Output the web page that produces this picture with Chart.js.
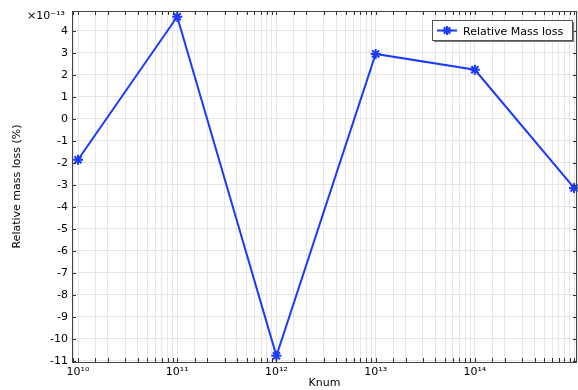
<!DOCTYPE html>
<html>
<head>
<meta charset="utf-8">
<script src="https://cdn.jsdelivr.net/npm/chart.js@4"></script>
<style>
  body { margin: 0; background: #fff; }
  #wrap { width: 578px; height: 390px; }
</style>
</head>
<body>
<div id="wrap"><canvas id="chart" width="578" height="390"></canvas></div>
<script>
// Knum values (x axis, log)
const knum = [1e10, 1e11, 1e12, 1e13, 1e14, 1e15];
// relative mass loss, in units of 1e-13 %
const relLoss = [-1.86, 4.64, -10.77, 2.95, 2.23, -3.14];
// y tick values (same units)
const yTicks = [-11, -10, -9, -8, -7, -6, -5, -4, -3, -2, -1, 0, 1, 2, 3, 4];
const yExp = -13;
const seriesName = "Relative Mass loss";

const blue = "rgb(28,58,250)";
const FONT = "DejaVu Sans";
const FS = 11;
const sup = { "0": "⁰", "1": "¹", "2": "²", "3": "³", "4": "⁴", "5": "⁵", "6": "⁶", "7": "⁷", "8": "⁸", "9": "⁹", "-": "⁻" };

function superscript(s) {
    return String(s).split("").map(c => sup[c] || c).join("");
}

// inward ticks on all four sides, legend box, exponent label
const extras = {
    id: "extras",
    afterDraw(c) {
        const ctx = c.ctx;
        const a = c.chartArea;
        const x = c.scales.x, y = c.scales.y;
        ctx.save();
        ctx.strokeStyle = "#333";
        ctx.lineWidth = 1;
        ctx.beginPath();
        x.ticks.forEach(t => {
            const px = Math.round(x.getPixelForValue(t.value)) + 0.5;
            if (px < a.left || px > a.right) return;
            ctx.moveTo(px, a.bottom); ctx.lineTo(px, a.bottom - 4);
            ctx.moveTo(px, a.top); ctx.lineTo(px, a.top + 4);
        });
        y.ticks.forEach(t => {
            const py = Math.round(y.getPixelForValue(t.value)) + 0.5;
            ctx.moveTo(a.left, py); ctx.lineTo(a.left + 4, py);
            ctx.moveTo(a.right, py); ctx.lineTo(a.right - 4, py);
        });
        ctx.stroke();

        // plot frame
        ctx.strokeStyle = "#444";
        ctx.strokeRect(a.left + 0.5, a.top + 0.5, a.right - a.left - 1, a.bottom - a.top);

        // exponent label
        ctx.fillStyle = "#000";
        ctx.font = FS + "px " + FONT;
        ctx.textBaseline = "alphabetic";
        ctx.textAlign = "left";
        ctx.fillText("×10" + superscript(yExp), 27, 19);

        // legend
        const lx = 432, ly = 20, lw = 140, lh = 20;
        ctx.fillStyle = "#777";
        ctx.fillRect(lx + 2, ly + 2, lw, lh);
        ctx.fillStyle = "#fff";
        ctx.fillRect(lx, ly, lw, lh);
        ctx.strokeStyle = "#555";
        ctx.strokeRect(lx + 0.5, ly + 0.5, lw, lh);
        ctx.strokeStyle = blue;
        ctx.lineWidth = 2;
        ctx.beginPath();
        ctx.moveTo(lx + 5, ly + 10.5); ctx.lineTo(lx + 25, ly + 10.5);
        ctx.stroke();
        drawStar(ctx, lx + 15, ly + 10.5, 4.5);
        ctx.fillStyle = "#000";
        ctx.font = FS + "px " + FONT;
        ctx.fillText(seriesName, lx + 31, ly + 14.5);
        ctx.restore();
    }
};

function drawStar(ctx, cx, cy, r) {
    ctx.save();
    ctx.strokeStyle = blue;
    ctx.lineWidth = 2;
    ctx.beginPath();
    for (let k = 0; k < 4; k++) {
        const ang = k * Math.PI / 4;
        ctx.moveTo(cx - r * Math.cos(ang), cy - r * Math.sin(ang));
        ctx.lineTo(cx + r * Math.cos(ang), cy + r * Math.sin(ang));
    }
    ctx.stroke();
    ctx.restore();
}

const points = knum.map((k, i) => ({ x: k, y: relLoss[i] }));

new Chart(document.getElementById("chart").getContext("2d"), {
    type: "line",
    data: {
        datasets: [{
            label: seriesName,
            data: points,
            borderColor: blue,
            backgroundColor: blue,
            borderWidth: 2,
            pointStyle: "star",
            pointRadius: 5,
            pointBorderWidth: 2,
            tension: 0,
            fill: false,
            clip: false
        }]
    },
    options: {
        responsive: false,
        animation: false,
        layout: { autoPadding: false, padding: { top: 11, right: 1, left: 11, bottom: 0 } },
        plugins: {
            legend: { display: false },
            tooltip: { enabled: false }
        },
        scales: {
            x: {
                type: "logarithmic",
                min: 0.87e10,
                max: 1.07e15,
                afterFit: s => { s.height = 28; s.paddingLeft = 0; s.paddingRight = 0; },
                grid: { color: "#e6e6e6", drawTicks: false },
                border: { display: false },
                title: { display: true, text: "Knum", color: "#000", font: { family: FONT, size: FS }, padding: { top: 0, bottom: 0 } },
                ticks: {
                    autoSkip: false,
                    maxRotation: 0,
                    color: "#000",
                    padding: 4,
                    font: { family: FONT, size: FS },
                    callback: v => {
                        const e = Math.log10(v);
                        if (Math.abs(e - Math.round(e)) < 1e-9 && Math.round(e) <= 14) return "10" + superscript(Math.round(e));
                        return "";
                    }
                }
            },
            y: {
                min: -11.05,
                max: 4.9,
                afterBuildTicks: s => { s.ticks = yTicks.map(v => ({ value: v })); },
                afterFit: s => { s.width = 61; },
                grid: { color: "#e6e6e6", drawTicks: false },
                border: { display: false },
                title: { display: true, text: "Relative mass loss (%)", color: "#000", font: { family: FONT, size: FS }, padding: { top: 0, bottom: 4 } },
                ticks: {
                    color: "#000",
                    padding: 4,
                    font: { family: FONT, size: FS }
                }
            }
        }
    },
    plugins: [extras]
});
</script>
</body>
</html>
